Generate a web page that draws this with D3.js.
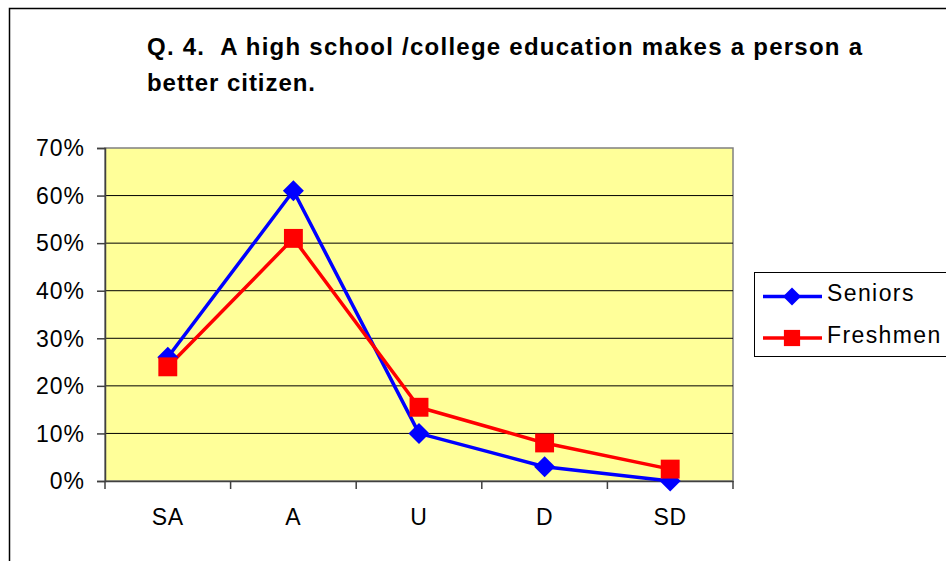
<!DOCTYPE html>
<html><head><meta charset="utf-8">
<script src="https://cdn.jsdelivr.net/npm/d3@7"></script>
<style>body{margin:0;background:#fff}svg{display:block}text{white-space:pre}</style>
</head><body>
<svg id="c" width="946" height="561"></svg>
<script>
const categories = ["SA","A","U","D","SD"];
const seniors = [0.26,0.61,0.10,0.03,0.00];
const freshmen = [0.24,0.51,0.155,0.08,0.025];
const yTicks = [0,0.1,0.2,0.3,0.4,0.5,0.6,0.7];
const titleLines = ["Q. 4.  A high school /college education makes a person a","better citizen."];
const seriesNames = ["Seniors","Freshmen"];

const svg = d3.select("#c");
const font = "Arial, 'Liberation Sans', sans-serif";
// outer border
svg.append("path").attr("d","M9.5,561 L9.5,8.5 L946,8.5").attr("fill","none").attr("stroke","#000").attr("stroke-width",1.5);

const L=105,R=733,T=148,B=481;
const x = d3.scaleBand().domain(categories).range([L,R]);
const y = d3.scaleLinear().domain([0,0.7]).range([B,T]);

svg.append("rect").attr("x",L).attr("y",T).attr("width",R-L).attr("height",B-T).attr("fill","#ffff99").attr("stroke","#808080").attr("stroke-width",1.5);
svg.append("g").selectAll("line").data(yTicks.filter(d=>d>0&&d<0.7)).join("line")
  .attr("x1",L).attr("x2",R).attr("y1",d=>y(d)).attr("y2",d=>y(d)).attr("stroke","#000").attr("stroke-width",1);

const ya = svg.append("g").attr("transform",`translate(${L},0)`)
  .call(d3.axisLeft(y).tickValues(yTicks).tickFormat(d3.format(".0%")).tickSize(8).tickPadding(12));
ya.select(".domain").attr("stroke","#404040").attr("stroke-width",1.5);
ya.selectAll(".tick line").attr("stroke","#404040").attr("stroke-width",1.5);
ya.selectAll("text").attr("font-family",font).attr("font-size",23).attr("letter-spacing",1).attr("fill","#000").attr("dy","0.34em");

const xa = svg.append("g").attr("transform",`translate(0,${B})`)
  .call(d3.axisBottom(x).tickSize(0).tickPadding(0));
xa.select(".domain").attr("stroke","#404040").attr("stroke-width",1.5);
xa.selectAll("text").attr("font-family",font).attr("font-size",23).attr("letter-spacing",0.8).attr("fill","#000").attr("dy",null).attr("y",44);
const bounds = categories.map(c=>x(c)).concat([R]);
svg.append("g").selectAll("line").data(bounds).join("line")
  .attr("x1",d=>d).attr("x2",d=>d).attr("y1",B).attr("y2",B+8).attr("stroke","#404040").attr("stroke-width",1.5);

const cx = c => x(c)+x.bandwidth()/2;
const line = d3.line().x((d,i)=>cx(categories[i])).y(d=>y(d));
const series = [{name:seriesNames[0],values:seniors,color:"#0000ff",sym:"diamond"},{name:seriesNames[1],values:freshmen,color:"#ff0000",sym:"square"}];
function marker(g,s,px,py,k){
  if(s.sym==="diamond") g.append("path").attr("d",`M${px},${py-k} L${px+k},${py} L${px},${py+k} L${px-k},${py} Z`).attr("fill",s.color);
  else g.append("rect").attr("x",px-k*0.9).attr("y",py-k*0.9).attr("width",k*1.8).attr("height",k*1.8).attr("fill",s.color);
}
series.forEach(s=>{
  svg.append("path").datum(s.values).attr("d",line).attr("fill","none").attr("stroke",s.color).attr("stroke-width",3.5).attr("stroke-linejoin","round");
});
series.forEach(s=>{
  const g=svg.append("g");
  s.values.forEach((v,i)=>marker(g,s,cx(categories[i]),y(v),10.5));
});

// title
const tl=[715,168];
svg.append("g").selectAll("text").data(titleLines).join("text")
  .attr("x",147).attr("y",(d,i)=>55+i*36).text(d=>d)
  .attr("textLength",(d,i)=>tl[i]).attr("lengthAdjust","spacing")
  .attr("font-family",font).attr("font-size",24).attr("font-weight","bold").attr("fill","#000");

// legend
svg.append("rect").attr("x",754.5).attr("y",272.5).attr("width",200).attr("height",84).attr("fill","#fff").attr("stroke","#000").attr("stroke-width",1);
series.forEach((s,i)=>{
  const ly = 296.5+i*41.5;
  svg.append("line").attr("x1",763).attr("x2",822).attr("y1",ly).attr("y2",ly).attr("stroke",s.color).attr("stroke-width",3.5);
  marker(svg,s,792,ly,9);
  svg.append("text").attr("x",827).attr("y",ly+4.5).text(s.name).attr("font-family",font).attr("font-size",23).attr("letter-spacing",1.4).attr("fill","#000");
});
</script>
</body></html>
